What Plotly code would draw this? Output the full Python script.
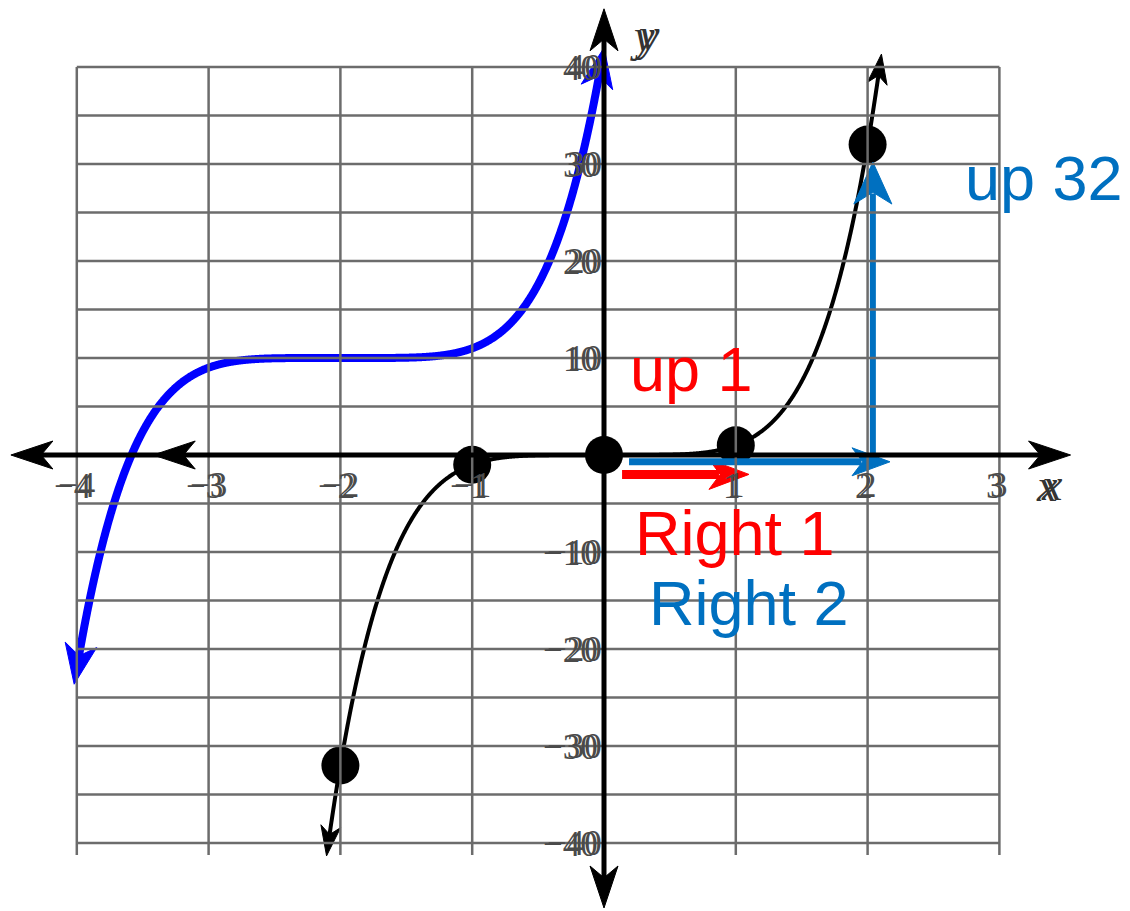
import numpy as np
import plotly.graph_objects as go

# ---------------- data ----------------
x_ticks = [-4, -3, -2, -1, 1, 2, 3]
x_tick_labels = ["\u22124", "\u22123", "\u22122", "\u22121", "1", "2", "3"]
y_ticks = [-40, -30, -20, -10, 10, 20, 30, 40]
y_tick_labels = ["\u221240", "\u221230", "\u221220", "\u221210", "10", "20", "30", "40"]
x_grid = [-4, -3, -2, -1, 0, 1, 2, 3]
y_grid = list(range(-40, 41, 5))

power = 5                       # parent function y = x^5
parent_x_span = [-2.105, 2.105]
shift_h, shift_k = -2, 10       # transformed: y = (x + 2)^5 + 10
shifted_x_span = [-4.02, 0.0]

point_x = [-2, -1, 0, 1, 2]
point_y = [-32, -1, 0, 1, 32]

right1_x = [0.137, 1.10]; right1_y = -2.0
right2_x = [0.19, 2.17]; right2_y = -0.7
up32_x = 2.04; up32_y = [-0.7, 30.2]

x_axis_span = [-4.5, 3.54]
y_axis_span = [-46.7, 46.0]
extra_arrow_x = -3.42

# ---------------- pixel mapping ----------------
OFF = 8  # page body margin
W, H = 1130 - OFF, 911 - OFF
PX0, SX = 604.0 - OFF, 131.8
PY0, SY = 455.0 - OFF, 9.7
XR = [(0 - PX0) / SX, (W - PX0) / SX]
YR = [(PY0 - H) / SY, (PY0 - 0) / SY]


def P(px, py):
    """reference-picture pixel -> figure pixel"""
    return px - OFF, py - OFF


def to_px(x, y):
    return PX0 + SX * np.asarray(x, float), PY0 - SY * np.asarray(y, float)


def to_data(px, py):
    return (np.asarray(px, float) - PX0) / SX, (PY0 - np.asarray(py, float)) / SY


def head_poly(tip_px, d, L, Wd):
    tx, ty = tip_px
    dx, dy = d
    n = np.hypot(dx, dy)
    dx, dy = dx / n, dy / n
    nx, ny = -dy, dx
    pts = [(tx, ty),
           (tx - L * dx + Wd * nx, ty - L * dy + Wd * ny),
           (tx - 0.72 * L * dx, ty - 0.72 * L * dy),
           (tx - L * dx - Wd * nx, ty - L * dy - Wd * ny),
           (tx, ty)]
    return to_data([p[0] for p in pts], [p[1] for p in pts])


fig = go.Figure()


def add_head(tip_px, d, L, Wd, color):
    hx, hy = head_poly(tip_px, d, L, Wd)
    fig.add_trace(go.Scatter(x=hx, y=hy, mode="lines", fill="toself", fillcolor=color,
                             line=dict(color=color, width=1), hoverinfo="skip", showlegend=False))


def curve_with_arrows(xs, ys, color, width, L, Wd):
    px, py = to_px(xs, ys)

    def end_info(px, py):
        tip = (px[-1], py[-1])
        dist = np.hypot(px - tip[0], py - tip[1])
        idx = np.where(dist >= L)[0][-1]
        d = (tip[0] - px[idx], tip[1] - py[idx])
        return tip, d, dist
    tip1, d1, dist1 = end_info(px, py)
    tip0, d0, dist0 = end_info(px[::-1], py[::-1])
    keep = (dist1 > 0.6 * L) & (dist0[::-1] > 0.6 * L)
    cx, cy = to_data(px[keep], py[keep])
    fig.add_trace(go.Scatter(x=cx, y=cy, mode="lines",
                             line=dict(color=color, width=width, simplify=False),
                             hoverinfo="skip", showlegend=False))
    add_head(tip1, d1, L, Wd, color)
    add_head(tip0, d0, L, Wd, color)


# transformed curve (blue)
xs_b = np.linspace(shifted_x_span[0], shifted_x_span[1], 1500)
ys_b = (xs_b - shift_h) ** power + shift_k
curve_with_arrows(xs_b, ys_b, "#0000ff", 8, 40, 16)

# parent curve (black)
xs_p = np.linspace(parent_x_span[0], parent_x_span[1], 1500)
ys_p = xs_p ** power
curve_with_arrows(xs_p, ys_p, "#000000", 4, 30, 10)

# points
fig.add_trace(go.Scatter(x=point_x, y=point_y, mode="markers",
                         marker=dict(color="black", size=38, line=dict(width=0)),
                         hoverinfo="skip", showlegend=False))


def straight_arrow(x0, y0, x1, y1, color, width, L, Wd):
    p0 = to_px(x0, y0)
    p1 = to_px(x1, y1)
    d = (float(p1[0] - p0[0]), float(p1[1] - p0[1]))
    n = np.hypot(*d)
    ux, uy = d[0] / n, d[1] / n
    ex, ey = to_data(float(p1[0]) - 0.75 * L * ux, float(p1[1]) - 0.75 * L * uy)
    fig.add_trace(go.Scatter(x=[x0, float(ex)], y=[y0, float(ey)], mode="lines",
                             line=dict(color=color, width=width), hoverinfo="skip", showlegend=False))
    add_head((float(p1[0]), float(p1[1])), d, L, Wd, color)


straight_arrow(right1_x[0], right1_y, right1_x[1], right1_y, "#ff0000", 9, 40, 15)
straight_arrow(right2_x[0], right2_y, right2_x[1], right2_y, "#0070c0", 7, 38, 14)
straight_arrow(up32_x, up32_y[0], up32_x, up32_y[1], "#0070c0", 6, 42, 19)

# ---------------- grid (drawn above the data) ----------------
shapes = []
gcol = "#6c6c6c"
y_grid_bottom = float(to_data(0, P(0, 855)[1])[1])
for gx in x_grid:
    shapes.append(dict(type="line", xref="x", yref="y", x0=gx, x1=gx, y0=y_grid_bottom, y1=40,
                       line=dict(color=gcol, width=2.5), layer="above"))
for gy in y_grid:
    shapes.append(dict(type="line", xref="x", yref="y", x0=-4, x1=3, y0=gy, y1=gy,
                       line=dict(color=gcol, width=2.5), layer="above"))

# ---------------- axes with arrowheads ----------------
AL, AW = 42, 14


def head_path(tip_px, d, L, Wd):
    hx, hy = head_poly(tip_px, d, L, Wd)
    return "M " + " L ".join(f"{a:.5f},{b:.5f}" for a, b in zip(hx, hy)) + " Z"


xl = to_px(x_axis_span[0], 0)
xr = to_px(x_axis_span[1], 0)
yt = to_px(0, y_axis_span[1])
yb = to_px(0, y_axis_span[0])
ax_l0 = float(to_data(float(xl[0]) + 0.7 * AL, 0)[0])
ax_r0 = float(to_data(float(xr[0]) - 0.7 * AL, 0)[0])
ay_t0 = float(to_data(0, float(yt[1]) + 0.7 * AL)[1])
ay_b0 = float(to_data(0, float(yb[1]) - 0.7 * AL)[1])
shapes.append(dict(type="line", xref="x", yref="y", x0=ax_l0, x1=ax_r0, y0=0, y1=0,
                   line=dict(color="black", width=5), layer="above"))
shapes.append(dict(type="line", xref="x", yref="y", x0=0, x1=0, y0=ay_b0, y1=ay_t0,
                   line=dict(color="black", width=5), layer="above"))
for tip, d in [((float(xl[0]), float(xl[1])), (-1, 0)),
               ((float(to_px(extra_arrow_x, 0)[0]), float(xl[1])), (-1, 0)),
               ((float(xr[0]), float(xr[1])), (1, 0)),
               ((float(yt[0]), float(yt[1])), (0, -1)),
               ((float(yb[0]), float(yb[1])), (0, 1))]:
    shapes.append(dict(type="path", xref="x", yref="y", path=head_path(tip, d, AL, AW),
                       fillcolor="black", line=dict(color="black", width=1), layer="above"))

# ---------------- labels ----------------
annotations = []
tick_font = dict(family="Liberation Serif, Times New Roman, serif", size=35, color="#4a4a4a",
                 shadow="-4px 1px 0px #4a4a4a")
for xv, lab in zip(x_ticks, x_tick_labels):
    annotations.append(dict(x=xv, y=float(to_data(0, P(0, 485)[1])[1]), xref="x", yref="y", text=lab,
                            showarrow=False, xanchor="center", yanchor="middle", font=tick_font))
for yv, lab in zip(y_ticks, y_tick_labels):
    annotations.append(dict(x=float(to_data(P(604, 0)[0], 0)[0]), y=yv, xref="x", yref="y", text=lab,
                            showarrow=False, xanchor="right", yanchor="middle", font=tick_font))
ax_font = dict(family="Liberation Serif, Times New Roman, serif", size=46, color="#333333",
               shadow="-5px 1px 0px #333333")
annotations.append(dict(x=float(to_data(P(1052, 0)[0], 0)[0]), y=float(to_data(0, P(0, 484)[1])[1]),
                        xref="x", yref="y", text="<i>x</i>", showarrow=False,
                        xanchor="center", yanchor="middle", font=ax_font))
annotations.append(dict(x=float(to_data(P(647, 0)[0], 0)[0]), y=float(to_data(0, P(0, 34)[1])[1]),
                        xref="x", yref="y", text="<i>y</i>", showarrow=False,
                        xanchor="center", yanchor="middle", font=ax_font))

big = 63
for txt, px_, py_, col in [("up 1", 628, 369, "#ff0000"),
                            ("Right 1", 633, 533, "#ff0000"),
                            ("Right 2", 647, 603, "#0070c0"),
                            ("up 32", 963, 178, "#0070c0")]:
    fx, fy = P(px_, py_)
    xd, yd = to_data(fx, fy)
    annotations.append(dict(x=float(xd), y=float(yd), xref="x", yref="y", text=txt, showarrow=False,
                            xanchor="left", yanchor="middle",
                            font=dict(family="Liberation Sans, Arial, sans-serif", size=big, color=col)))

fig.update_layout(
    width=W, height=H,
    margin=dict(l=0, r=0, t=0, b=0),
    paper_bgcolor="white", plot_bgcolor="white",
    xaxis=dict(range=XR, visible=False, fixedrange=True),
    yaxis=dict(range=YR, visible=False, fixedrange=True),
    shapes=shapes, annotations=annotations, showlegend=False,
)

fig.write_html("out.html")
